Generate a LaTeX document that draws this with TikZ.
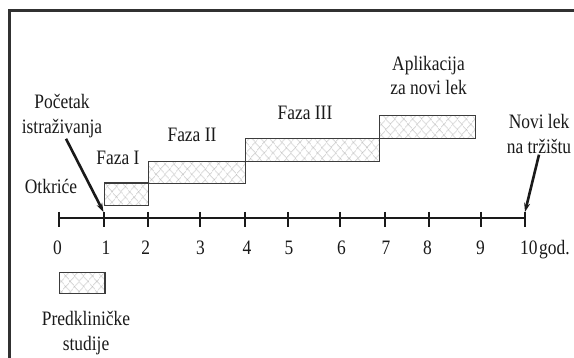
\documentclass[tikz,border=0pt]{standalone}
\usepackage{fontspec}
\setmainfont{Liberation Serif}[FakeStretch=0.85]
\usetikzlibrary{patterns.meta,arrows.meta}
\definecolor{ink}{HTML}{1A1A1A}
\definecolor{hatch}{HTML}{939393}
\tikzset{
  txt/.style={inner sep=0pt, text=ink, font=\fontsize{20.5}{24.5}\selectfont, align=center},
  num/.style={inner sep=0pt, text=ink, font=\fontsize{20.5}{22}\selectfont, anchor=base},
  phasebox/.style={draw=ink!85, line width=1.2pt, anchor=north west, inner sep=0pt,
    preaction={pattern={Lines[angle=50,distance=6.4pt,line width=0.5pt]}, pattern color=hatch},
    pattern={Lines[angle=-50,distance=6.4pt,line width=0.5pt]}, pattern color=hatch},
  axisline/.style={line width=2.8pt, draw=ink},
  tick/.style={line width=2pt, draw=ink},
  pointer/.style={line width=2.6pt, draw=ink, -{Stealth[length=9pt,width=6pt]}},
  frame/.style={line width=2.6pt, draw=ink!90}
}
\begin{document}
\begin{tikzpicture}[x=1pt,y=-1pt]
\useasboundingbox (0,0) rectangle (574,358);
\fill[white] (0,0) rectangle (574,358);
% frame
\draw[frame] (9.3,360) -- (9.3,10.7) -- (576,10.7);
% axis ticks
\foreach \n/\x in {0/58.6,1/104.3,2/147.5,3/199.5,4/244.5,5/288.4,6/340.4,7/385.4,8/429.3,9/481.3,10/525.3}{
  \coordinate (t\n) at (\x,218);
  \draw[tick] (\x,212) -- (\x,227);
}
\draw[axisline] (t0) -- (t10);
% numbers
\node[num] (n0) at (57.5,255) {0};
\node[num] (n1) at (106,255) {1};
\node[num] (n2) at (145.7,255) {2};
\node[num] (n3) at (200.6,255) {3};
\node[num] (n4) at (247,255) {4};
\node[num] (n5) at (289,255) {5};
\node[num] (n6) at (341.5,255) {6};
\node[num] (n7) at (386,255) {7};
\node[num] (n8) at (427.5,255) {8};
\node[num] (n9) at (480.6,255) {9};
\node[num, anchor=base west] (n10) at (520,255) {10\kern1.5pt god.};
% phase boxes
\node[phasebox, minimum width=43.9pt, minimum height=22.3pt] (f1) at (104.3,182.7) {};
\node[phasebox, minimum width=96.3pt, minimum height=22pt] (f2) at (148.2,160.7) {};
\node[phasebox, minimum width=134.3pt, minimum height=23pt] (f3) at (244.5,137.7) {};
\node[phasebox, minimum width=96.3pt, minimum height=22.4pt] (f4) at (378.8,115.3) {};
\node[phasebox, minimum width=45.7pt, minimum height=21pt] (leg) at (58.6,271.7) {};
% labels
\node[txt] (poc) at (62,116) {Početak\\istraživanja};
\node[txt, anchor=base] (faza1) at (118,164.3) {Faza I};
\node[txt, anchor=base] (otk) at (51,193.3) {Otkriće};
\node[txt, anchor=base] (faza2) at (192,141.7) {Faza II};
\node[txt, anchor=base] (faza3) at (305,119.5) {Faza III};
\node[txt] (apl) at (428.5,75.5) {Aplikacija\\za novi lek};
\node[txt] (novi) at (539,134) {Novi lek\\na tržištu};
\node[txt] (pred) at (86,333) {Predkliničke\\studije};
% pointers
\coordinate (p1) at (103.5,212);
\coordinate (p10) at (525,212);
\draw[pointer] ([xshift=4pt,yshift=-1pt]poc.south) -- (p1);
\draw[pointer] ([yshift=-1pt]novi.south) -- (p10);
\end{tikzpicture}
\end{document}
